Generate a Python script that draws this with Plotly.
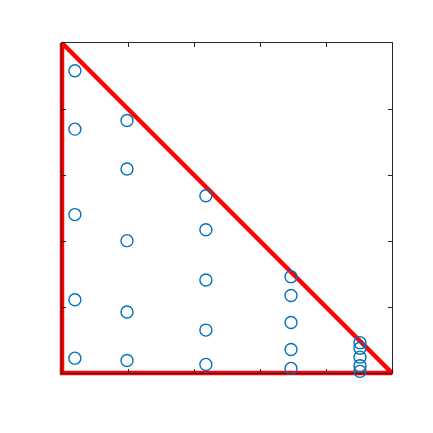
import plotly.graph_objects as go

# quadrature nodes, one column per x value
x_cols = [0.039, 0.197, 0.436, 0.694, 0.903]
y_cols = [
    [0.045, 0.222, 0.480, 0.739, 0.916],
    [0.038, 0.185, 0.401, 0.618, 0.765],
    [0.026, 0.130, 0.282, 0.434, 0.537],
    [0.014, 0.071, 0.153, 0.235, 0.292],
    [0.005, 0.022, 0.048, 0.075, 0.092],
]

# reference triangle
tri_x = [0, 0, 1, 0]
tri_y = [1, 0, 0, 1]

px_list = []
py_list = []
for xv, ys in zip(x_cols, y_cols):
    for yv in ys:
        px_list.append(xv)
        py_list.append(yv)

# the triangle sits on a slightly bigger hidden subplot so its thick
# edges are not cut in half by the box
pad = 12
box = 330
full = box + 2 * pad
ext = pad / box

fig = go.Figure()
fig.add_trace(go.Scatter(x=tri_x, y=tri_y, mode='lines', xaxis='x', yaxis='y',
                         line=dict(color='#FF0000', width=4.5)))
fig.add_trace(go.Scatter(x=px_list, y=py_list, mode='markers', xaxis='x2', yaxis='y2',
                         marker=dict(symbol='circle-open', size=12, color='#0072BD',
                                     line=dict(width=1.4, color='#0072BD')),
                         cliponaxis=False))

hidden = dict(range=[-ext, 1 + ext], domain=[0, 1], visible=False,
              showgrid=False, zeroline=False)
ax = dict(range=[0, 1], domain=[pad / full, (pad + box) / full],
          showgrid=False, zeroline=False, showticklabels=False,
          ticks='inside', ticklen=4, tickwidth=1, tickcolor='#262626',
          showline=True, linecolor='#262626', linewidth=1, mirror='ticks',
          dtick=0.2, tick0=0, layer='below traces')
fig.update_layout(width=433, height=433, showlegend=False,
                  paper_bgcolor='white', plot_bgcolor='rgba(0,0,0,0)',
                  margin=dict(l=54 - pad, r=433 - 54 - box - pad,
                              t=35 - pad, b=433 - 35 - box - pad),
                  xaxis=dict(hidden, anchor='y'), yaxis=dict(hidden, anchor='x'),
                  xaxis2=dict(ax, anchor='y2'), yaxis2=dict(ax, anchor='x2'))
fig.write_html("out.html")
